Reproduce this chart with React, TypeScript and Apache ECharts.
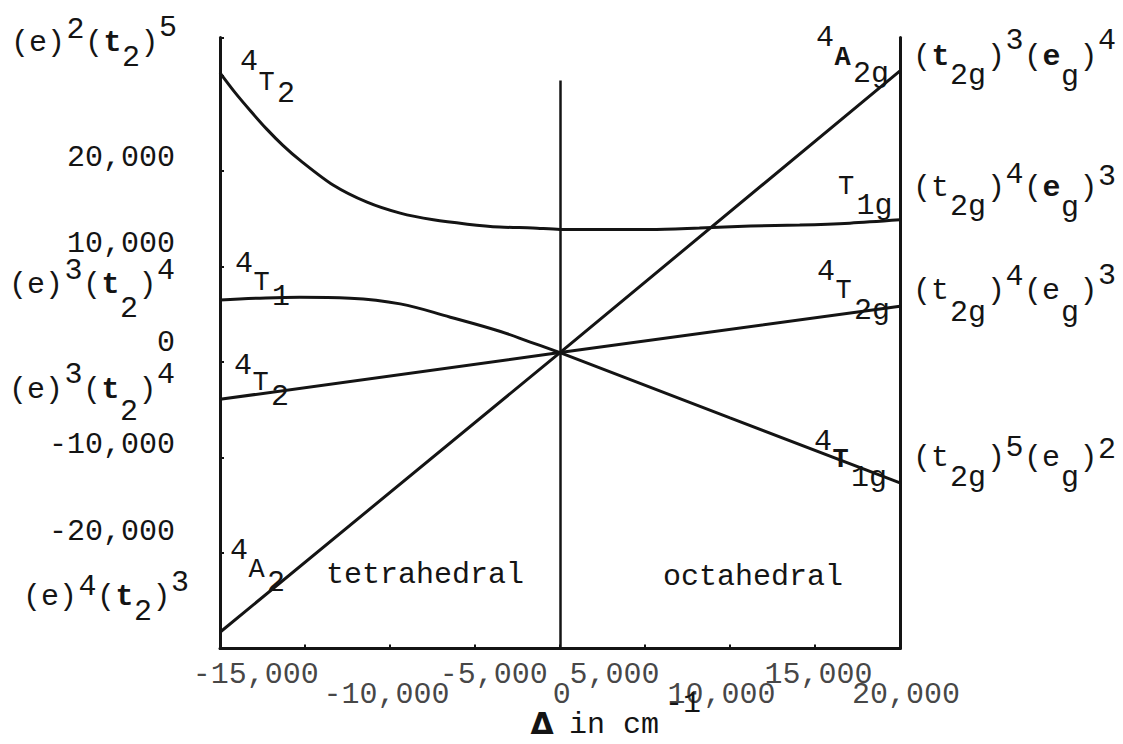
import React, { useEffect, useRef } from 'react';
import * as echarts from 'echarts';

const INK = '#141414';
const MONO = '"Liberation Mono", "DejaVu Sans Mono", monospace';

// Δ axis (cm^-1) and energy axis (cm^-1)
const deltaMin = -20000;
const deltaMax = 20000;
const deltaStep = 5000;
const energyMin = -30000;
const energyMax = 34000;
const energyStep = 10000;

const energyTickValues = [20000, 10000, 0, -10000, -20000];
const energyTickLabels = ['20,000', '10,000', '0', '-10,000', '-20,000'];

const deltaTickLabels = ['-15,000', '-10,000', '-5,000', '0', '5,000', '10,000', '15,000', '20,000'];
const deltaTickLabelAt = [-17900, -10200, -3900, 100, 3200, 9500, 15200, 20350];

// top of the divider between the tetrahedral and octahedral halves
const dividerTop = 29500;

// 4T2 (tetrahedral) -> T1g (octahedral), the upper curve
const termT2Upper: [number, number][] = [
  [-20000, 30300], [-19100, 28200], [-18200, 26300], [-17250, 24400], [-16300, 22700],
  [-15300, 21150], [-13350, 18550], [-11350, 16750], [-9400, 15600], [-7450, 14900],
  [-5450, 14450], [-3550, 14150], [-1600, 14050], [0, 13900], [2350, 13900],
  [5300, 13900], [8200, 14050], [11200, 14250], [14100, 14350], [17050, 14550], [20000, 14900],
];

// 4T1 (tetrahedral side)
const termT1Tet: [number, number][] = [
  [-20000, 6500], [-17650, 6700], [-15300, 6800], [-12350, 6700], [-9400, 6100],
  [-6450, 4700], [-3500, 3200], [-1750, 2100], [0, 1000],
];

// 4T1g (octahedral side)
const termT1gOct: [number, number][] = [[0, 1000], [10000, -5850], [20000, -12650]];

// 4T2 -> 4T2g
const termT2Lower: [number, number][] = [[-20000, -3900], [0, 1000], [20000, 5850]];

// 4A2 -> 4A2g
const termA2: [number, number][] = [[-20000, -28300], [0, 1000], [20000, 30500]];

// typed labels: [text, vertical shift, font size, weight]
type Part = [string, number, number?, string?];
type Typed = { x: number; y: number; parts: Part[] };

const configLeft: Typed[] = [
  { x: 11, y: 43, parts: [['(e)', 0], ['2', -13], ['(', 0], ['t', 0, 30, 'bold'], ['2', 15], [')', 0], ['5', -15]] },
  { x: 9, y: 285, parts: [['(e)', 0], ['3', -14], ['(', 0], ['t', 0, 30, 'bold'], ['2', 24], [')', 0], ['4', -14]] },
  { x: 9, y: 390, parts: [['(e)', 0], ['3', -15], ['(', 0], ['t', 0, 30, 'bold'], ['2', 22], [')', 0], ['4', -15]] },
  { x: 23, y: 597, parts: [['(e)', 0], ['4', -10], ['(', 0], ['t', 0, 30, 'bold'], ['2', 15], [')', 0], ['3', -14]] },
];

const configRight: Typed[] = [
  { x: 913, y: 57, parts: [['(', 0], ['t', 0, 30, 'bold'], ['2g', 19], [')', 0], ['3', -16], ['(', 0], ['e', 0, 30, 'bold'], ['g', 20], [')', 0], ['4', -16]] },
  { x: 913, y: 188, parts: [['(t', 0], ['2g', 19], [')', 0], ['4', -13], ['(', 0], ['e', 0, 30, 'bold'], ['g', 20], [')', 0], ['3', -11]] },
  { x: 913, y: 291, parts: [['(t', 0], ['2g', 22], [')', 0], ['4', -14], ['(e', 0], ['g', 22], [')', 0], ['3', -15]] },
  { x: 913, y: 458, parts: [['(t', 0], ['2g', 20], [')', 0], ['5', -10], ['(e', 0], ['g', 20], [')', 0], ['2', -8]] },
];

const stateLabels: Typed[] = [
  { x: 240, y: 83, parts: [['4', -21], ['T', 0, 27], ['2', 11]] },
  { x: 235, y: 283, parts: [['4', -19], ['T', 0, 27], ['1', 14]] },
  { x: 234, y: 383, parts: [['4', -17], ['T', 0, 27], ['2', 14]] },
  { x: 230, y: 570, parts: [['4', -19], ['A', 0, 27], ['2', 13]] },
  { x: 816, y: 58, parts: [['4', -20], ['A', 0, 27, 'bold'], ['2g', 16]] },
  { x: 838, y: 187, parts: [['T', 0, 27], ['1g', 19]] },
  { x: 817, y: 291, parts: [['4', -19], ['T', 0, 27], ['2g', 20]] },
  { x: 814, y: 460, parts: [['4', -18], ['T', 0, 27, 'bold'], ['1g', 18]] },
];

// line heights that lift each energy tick label above its tick
const energyLabelLift = [26, 46, 38, 26, 42];

const CELL = 18.5;

function textEl(text: string, x: number, y: number, size = 30, weight = 'normal', family = MONO) {
  return {
    type: 'text',
    x,
    y,
    silent: true,
    style: {
      text,
      fill: INK,
      fontFamily: family,
      fontSize: size,
      fontWeight: weight,
      align: 'left',
      verticalAlign: 'middle',
      textAlign: 'left',
      textVerticalAlign: 'middle',
    },
  };
}

function typed(label: Typed) {
  let col = 0;
  const children = label.parts.map(([t, dy, fs = 30, fw = 'normal']) => {
    const el = textEl(t, label.x + col * CELL, label.y + dy, fs, fw);
    col += t.length;
    return el;
  });
  return { type: 'group', children };
}

function curve(name: string, data: [number, number][], smooth: number | boolean) {
  return {
    type: 'line',
    name,
    data,
    smooth,
    symbol: 'none',
    showSymbol: false,
    silent: true,
    lineStyle: { color: INK, width: 3 },
    z: 3,
  };
}

const axisLineStyle = { color: INK, width: 3 };

function buildOption() {
  const energyLabel = (v: number) => {
    const i = energyTickValues.indexOf(v);
    return i >= 0 ? `{s${i}|${energyTickLabels[i]}}` : '';
  };
  const energyRich: Record<string, object> = {};
  energyLabelLift.forEach((h, i) => {
    energyRich[`s${i}`] = { fontFamily: MONO, fontSize: 30, color: INK, lineHeight: h };
  });

  return {
    animation: false,
    backgroundColor: '#ffffff',
    grid: { left: 220, right: 223, top: 37.5, bottom: 95.5, containLabel: false },
    xAxis: {
      type: 'value',
      min: deltaMin,
      max: deltaMax,
      interval: deltaStep,
      axisLine: { show: true, onZero: false, lineStyle: axisLineStyle },
      axisTick: { show: true, inside: true, length: 4, lineStyle: { color: INK, width: 2 } },
      axisLabel: { show: false },
      splitLine: { show: false },
    },
    yAxis: [
      {
        type: 'value',
        min: energyMin,
        max: energyMax,
        interval: energyStep,
        axisLine: { show: true, onZero: false, lineStyle: axisLineStyle },
        axisTick: { show: true, inside: true, length: 4, lineStyle: { color: INK, width: 2 } },
        axisLabel: {
          show: true,
          margin: 45,
          fontFamily: MONO,
          fontSize: 30,
          color: INK,
          verticalAlign: 'bottom',
          formatter: energyLabel,
          rich: energyRich,
        },
        splitLine: { show: false },
      },
      {
        type: 'value',
        position: 'right',
        min: energyMin,
        max: energyMax,
        interval: energyStep,
        axisLine: { show: true, onZero: false, lineStyle: axisLineStyle },
        axisTick: { show: false },
        axisLabel: { show: false },
        splitLine: { show: false },
      },
    ],
    series: [
      curve('4T2 / T1g', termT2Upper, 0.3),
      curve('4T1', termT1Tet, 0.4),
      curve('4T1g', termT1gOct, false),
      curve('4T2 / 4T2g', termT2Lower, false),
      {
        ...curve('4A2 / 4A2g', termA2, false),
        markLine: {
          silent: true,
          symbol: ['none', 'none'],
          label: { show: false },
          lineStyle: { type: 'solid', color: INK, width: 2.5 },
          data: [[{ coord: [0, energyMin] }, { coord: [0, dividerTop] }]],
        },
      },
      {
        type: 'scatter',
        name: 'Δ ticks',
        silent: true,
        clip: false,
        symbolSize: 1,
        itemStyle: { color: 'rgba(0,0,0,0)' },
        label: {
          show: true,
          position: 'inside',
          formatter: '{b}',
          fontFamily: MONO,
          fontSize: 30,
          color: INK,
        },
        data: deltaTickLabelAt.map((v, i) => ({
          name: deltaTickLabels[i],
          value: [v, energyMin],
          label: { offset: [0, i % 2 === 0 ? 26 : 46] },
        })),
      },
    ],
    graphic: [
      ...configLeft.map(typed),
      ...configRight.map(typed),
      ...stateLabels.map(typed),
      textEl('tetrahedral', 326, 575),
      textEl('octahedral', 663, 577),
      {
        type: 'text',
        x: 542,
        y: 723,
        silent: true,
        style: {
          text: 'Δ',
          fill: INK,
          fontFamily: '"DejaVu Sans", sans-serif',
          fontSize: 30,
          fontWeight: 'bold',
          align: 'center',
          verticalAlign: 'middle',
          textAlign: 'center',
          textVerticalAlign: 'middle',
        },
      },
      textEl('in cm', 569, 725),
      textEl('-1', 665, 704),
    ],
  };
}

export default function App() {
  const ref = useRef<HTMLDivElement>(null);

  useEffect(() => {
    document.body.style.margin = '0';
    const chart = echarts.init(ref.current as HTMLDivElement, null, { renderer: 'svg' });
    chart.setOption(buildOption() as any);
    return () => chart.dispose();
  }, []);

  return <div ref={ref} style={{ width: 1123, height: 744, background: '#ffffff' }} />;
}
